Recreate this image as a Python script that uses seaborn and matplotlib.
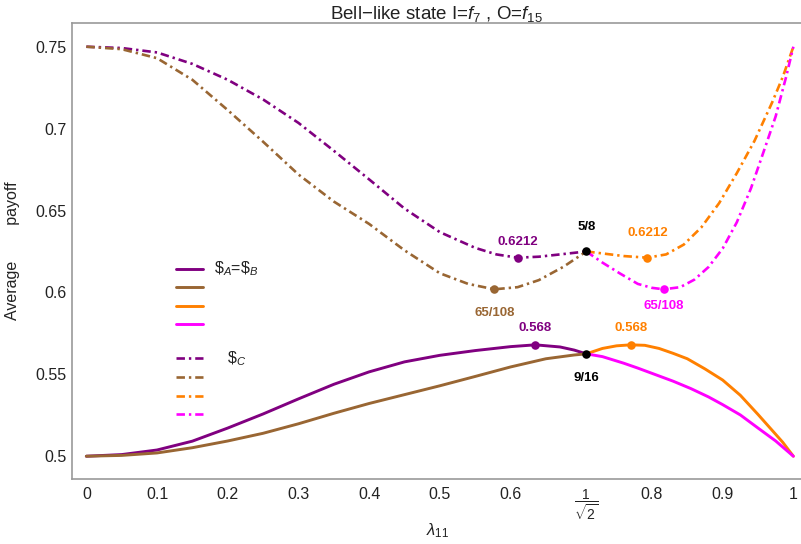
import numpy as np
import pandas as pd
import matplotlib
matplotlib.use("Agg")
import matplotlib.pyplot as plt
import seaborn as sns
from matplotlib.lines import Line2D

# ---- data: average payoff vs lambda_11 ----
root_half = 0.7071

# $_A = $_B (solid)
lam_ab_purple = [0, 0.05, 0.1, 0.15, 0.2, 0.25, 0.3, 0.35, 0.4, 0.45, 0.5, 0.55, 0.6, 0.635, 0.67, 0.69, root_half]
pay_ab_purple = [0.5, 0.501, 0.5038, 0.5092, 0.5172, 0.5258, 0.535, 0.5439, 0.5515, 0.5576, 0.5616, 0.5645,
                 0.5669, 0.568, 0.5667, 0.5648, 0.5625]
lam_ab_brown = [0, 0.05, 0.1, 0.15, 0.2, 0.25, 0.3, 0.35, 0.4, 0.45, 0.5, 0.55, 0.6, 0.65, 0.69, root_half]
pay_ab_brown = [0.5, 0.5005, 0.502, 0.5052, 0.5093, 0.514, 0.5198, 0.5262, 0.5322, 0.5376, 0.543, 0.5487,
                0.5545, 0.5595, 0.5618, 0.5625]
lam_ab_orange = [root_half, 0.73, 0.75, 0.77, 0.79, 0.81, 0.83, 0.85, 0.875, 0.9, 0.925, 0.95, 0.97, 0.985, 1.0]
pay_ab_orange = [0.5625, 0.5658, 0.5674, 0.568, 0.5677, 0.5658, 0.5628, 0.5595, 0.5533, 0.5465, 0.5372,
                 0.5255, 0.5158, 0.5085, 0.5]
lam_ab_magenta = [root_half, 0.73, 0.76, 0.78, 0.805, 0.83, 0.855, 0.88, 0.9, 0.925, 0.95, 0.975, 1.0]
pay_ab_magenta = [0.5625, 0.5608, 0.5568, 0.5538, 0.5498, 0.5458, 0.5413, 0.5362, 0.5315, 0.5252, 0.5172,
                  0.5093, 0.5]

# $_C (dash-dot)
lam_c_purple = [0, 0.05, 0.1, 0.15, 0.2, 0.25, 0.3, 0.35, 0.4, 0.45, 0.5, 0.55, 0.58, 0.61, 0.64, 0.67, root_half]
pay_c_purple = [0.75, 0.7492, 0.7465, 0.7395, 0.7298, 0.7178, 0.7035, 0.6865, 0.669, 0.6512, 0.6368, 0.6272,
                0.6232, 0.6212, 0.6218, 0.6232, 0.625]
lam_c_brown = [0, 0.05, 0.1, 0.15, 0.2, 0.25, 0.3, 0.35, 0.4, 0.45, 0.5, 0.54, 0.577, 0.61, 0.64, 0.675, root_half]
pay_c_brown = [0.75, 0.7485, 0.743, 0.7298, 0.7113, 0.692, 0.672, 0.6555, 0.6418, 0.6257, 0.6117, 0.6052,
               0.6019, 0.6032, 0.6075, 0.6157, 0.625]
lam_c_orange = [root_half, 0.73, 0.76, 0.7935, 0.82, 0.845, 0.87, 0.895, 0.92, 0.945, 0.97, 0.985, 1.0]
pay_c_orange = [0.625, 0.6238, 0.6222, 0.6212, 0.6232, 0.6292, 0.6398, 0.6545, 0.6728, 0.6925, 0.716,
                0.7315, 0.75]
lam_c_magenta = [root_half, 0.73, 0.755, 0.78, 0.8, 0.8165, 0.84, 0.86, 0.88, 0.9, 0.92, 0.94, 0.96, 0.975,
                 0.99, 1.0]
pay_c_magenta = [0.625, 0.6182, 0.6115, 0.6052, 0.6028, 0.6019, 0.6032, 0.6078, 0.6155, 0.6268, 0.6428,
                 0.6635, 0.6885, 0.7075, 0.732, 0.75]

# marked points and their labels
mark_lam = [0.61, 0.577, 0.7935, 0.8165, 0.635, 0.77, root_half, root_half]
mark_pay = [0.6212, 0.6019, 0.6212, 0.6019, 0.568, 0.568, 0.625, 0.5625]
mark_text = ["0.6212", "65/108", "0.6212", "65/108", "0.568", "0.568", "5/8", "9/16"]

x_ticks = [0, 0.1, 0.2, 0.3, 0.4, 0.5, 0.6, root_half, 0.8, 0.9, 1.0]
x_ticklabels = ["0", "0.1", "0.2", "0.3", "0.4", "0.5", "0.6", r"$\dfrac{1}{\sqrt{2}}$", "0.8", "0.9", "1"]
y_ticks = [0.5, 0.55, 0.6, 0.65, 0.7, 0.75]
y_ticklabels = ["0.5", "0.55", "0.6", "0.65", "0.7", "0.75"]

PURPLE, BROWN, ORANGE, MAGENTA = "#800080", "#996633", "#ff8000", "#ff00ff"
mark_color = [PURPLE, BROWN, ORANGE, MAGENTA, PURPLE, ORANGE, "black", "black"]

sns.set_style("white")
plt.rcParams["font.family"] = ["Liberation Sans", "DejaVu Sans"]
plt.rcParams["mathtext.fontset"] = "custom"
plt.rcParams["mathtext.rm"] = "Liberation Sans"
plt.rcParams["mathtext.it"] = "Liberation Sans:italic"
plt.rcParams["mathtext.bf"] = "Liberation Sans:bold"

fig = plt.figure(figsize=(8.01, 5.44), dpi=100)
ax = fig.add_axes([0.0895, 0.1195, 0.9105, 0.8377])

DASH = (3.2, 1.5, 0.9, 1.5)
series = [
    (lam_ab_purple, pay_ab_purple, PURPLE, False),
    (lam_ab_brown, pay_ab_brown, BROWN, False),
    (lam_ab_orange, pay_ab_orange, ORANGE, False),
    (lam_ab_magenta, pay_ab_magenta, MAGENTA, False),
    (lam_c_purple, pay_c_purple, PURPLE, True),
    (lam_c_brown, pay_c_brown, BROWN, True),
    (lam_c_orange, pay_c_orange, ORANGE, True),
    (lam_c_magenta, pay_c_magenta, MAGENTA, True),
]
for lam, pay, col, dashed in series:
    df = pd.DataFrame({"lam": lam, "pay": pay})
    sns.lineplot(data=df, x="lam", y="pay", color=col, lw=1.9 if dashed else 2.1,
                 estimator=None, sort=True, ax=ax)
    ax.lines[-1].set_solid_joinstyle("round")
    if dashed:
        ax.lines[-1].set_dashes(DASH)

# extremum markers
mk = pd.DataFrame({"lam": mark_lam, "pay": mark_pay, "c": mark_color})
for _, r in mk.iterrows():
    ax.scatter([r.lam], [r.pay], s=38, color=r.c, zorder=5, linewidths=0)

label_off = [0.0095, -0.0147, 0.0148, -0.0102, 0.0101, 0.0101, 0.0151, -0.0149]
for lx, ly, t, c, off in zip(mark_lam, mark_pay, mark_text, mark_color, label_off):
    ax.text(lx, ly + off, t, color=c, fontsize=9.5, fontweight="bold", ha="center", va="center")

# legend drawn as short line samples
leg_y = [0.6146, 0.6032, 0.5920, 0.5806]
leg_y2 = [0.5598, 0.5484, 0.5368, 0.5256]
for yy, col in zip(leg_y, [PURPLE, BROWN, ORANGE, MAGENTA]):
    ax.add_line(Line2D([0.1275, 0.165], [yy, yy], color=col, lw=2.1))
for yy, col in zip(leg_y2, [PURPLE, BROWN, ORANGE, MAGENTA]):
    ln = Line2D([0.1275, 0.165], [yy, yy], color=col, lw=1.9)
    ln.set_dashes(DASH)
    ax.add_line(ln)
ax.text(0.181, leg_y[0], r"\$$_{A}$=\$$_{B}$", fontsize=11.5, va="center", ha="left", color="#222222")
ax.text(0.199, leg_y2[0], r"\$$_{C}$", fontsize=11.5, va="center", ha="left", color="#222222")

ax.set_xlim(-0.0207, 1.0108)
ax.set_ylim(0.4861, 0.7643)
ax.set_xticks(x_ticks)
ax.set_xticklabels(x_ticklabels)
ax.set_yticks(y_ticks)
ax.set_yticklabels(y_ticklabels)
ax.tick_params(direction="in", length=5, width=1, color="#999999", labelsize=11.5,
               labelcolor="#222222")
ax.tick_params(axis="y", pad=4)
ax.tick_params(axis="x", pad=6)
for lbl in ax.get_xticklabels():
    if "sqrt" in lbl.get_text():
        lbl.set_fontsize(10)
for side in ["left", "bottom", "top"]:
    ax.spines[side].set_color("#999999")
    ax.spines[side].set_linewidth(1.2)
ax.spines["right"].set_visible(False)

ax.set_xlabel(r"$\lambda_{11}$", fontsize=12, color="#222222")
ax.xaxis.set_label_coords(0.502, -0.093)
ax.set_ylabel("Average        payoff", fontsize=11.5, color="#222222")
ax.yaxis.set_label_coords(-0.071, 0.5)
ax.set_title(r"Bell−like state I=$f_7$ , O=$f_{15}$", fontsize=13.5, color="#222222", pad=3)

fig.savefig("out.png", dpi=100)
